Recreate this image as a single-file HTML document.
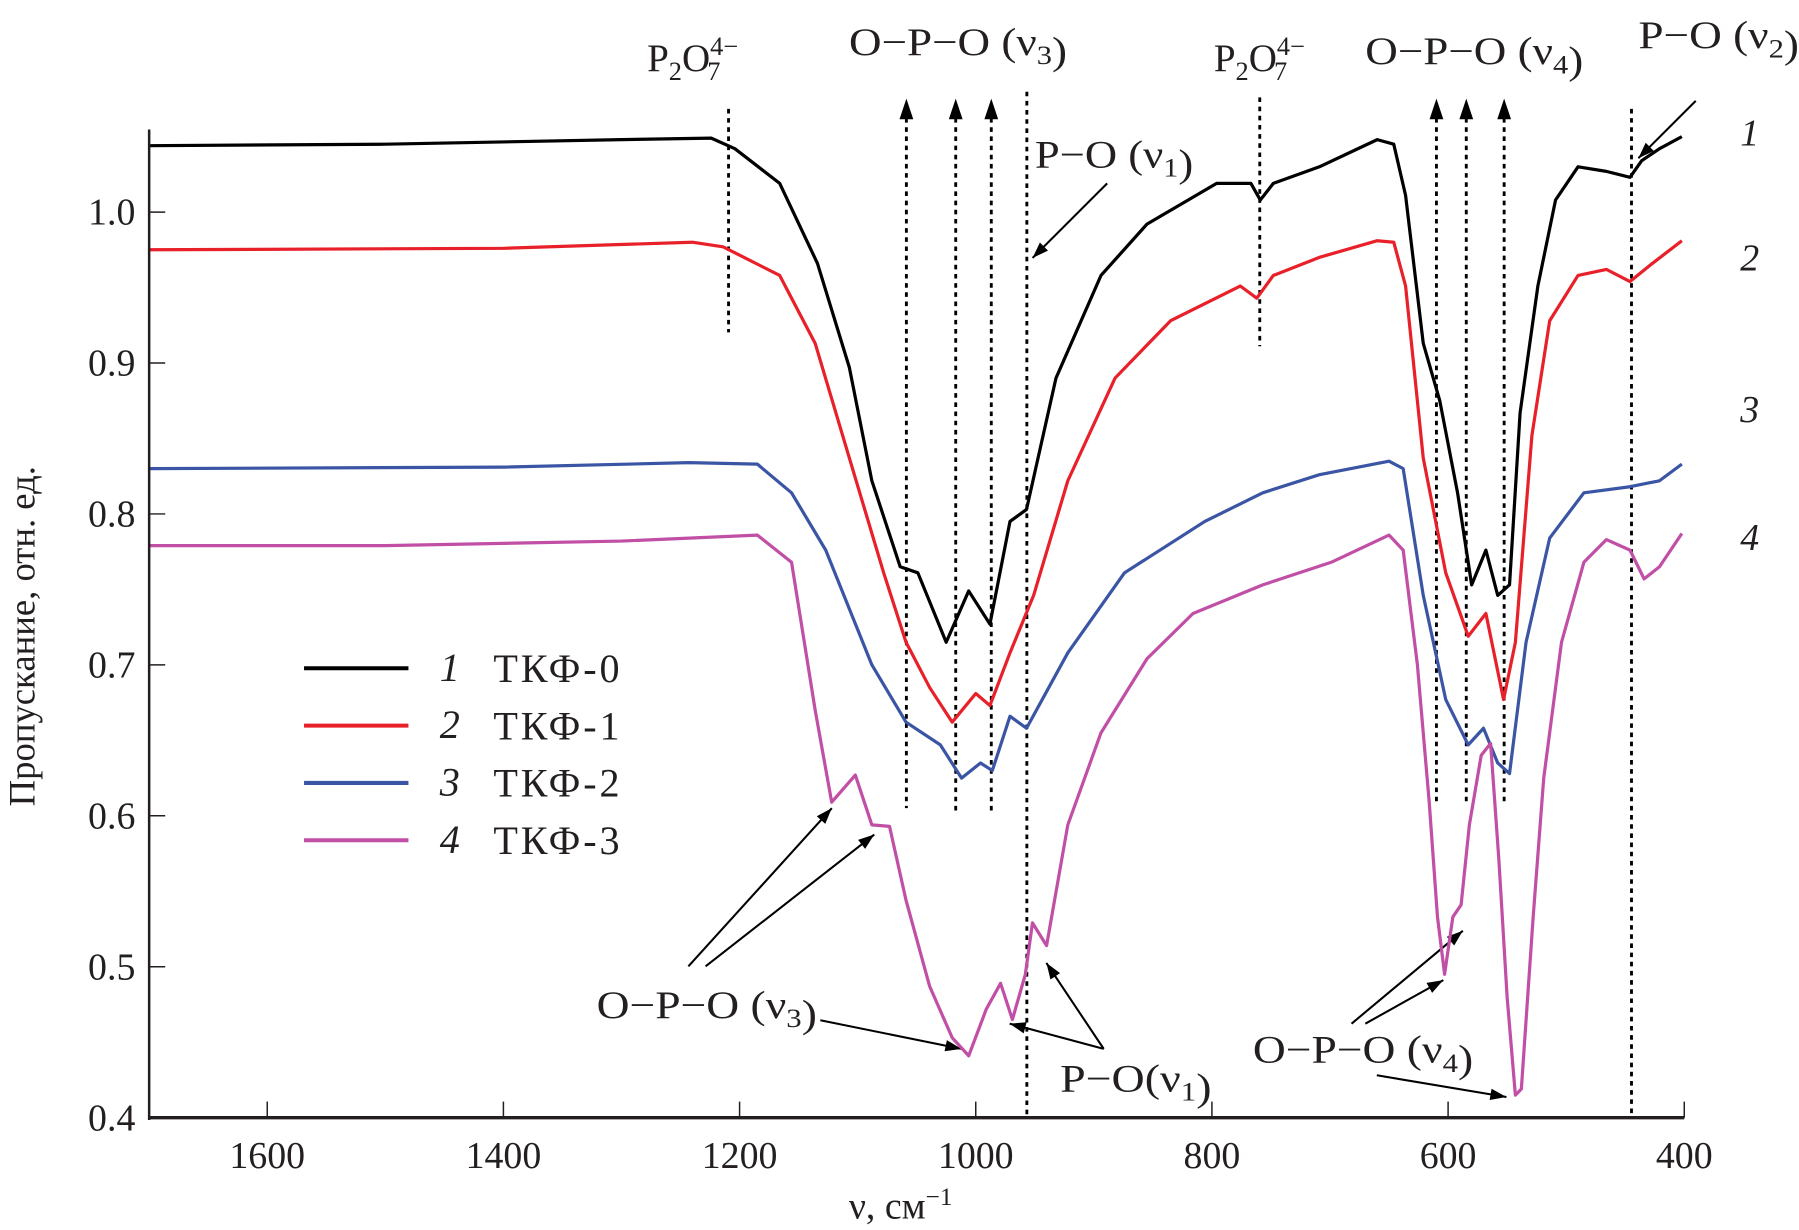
<!DOCTYPE html>
<html><head><meta charset="utf-8">
<style>
html,body{margin:0;padding:0;background:#fff;}
svg{display:block;}
text{font-family:"Liberation Serif","DejaVu Serif",serif;fill:#231f20;}
</style></head>
<body>
<svg id="chart" width="1799" height="1230" viewBox="0 0 1568 1073" preserveAspectRatio="none" xmlns="http://www.w3.org/2000/svg">
<g id="annot"></g>
<g id="series"></g>
<g id="axes"></g>
</svg>
<script>
const xTicks=[1600,1400,1200,1000,800,600,400];
const yTicks=[0.4,0.5,0.6,0.7,0.8,0.9,1.0];
const yTickLabels=["0.4","0.5","0.6","0.7","0.8","0.9","1.0"];
const seriesNames=["ТКФ-0","ТКФ-1","ТКФ-2","ТКФ-3"];
const seriesColors=["#000000","#e8202a","#3b55a5","#c04fa5"];
const wn1=[1700,1500,1300,1224,1204,1166,1134,1107,1088,1064,1049,1025,1006,988,971,957,932,894,855,796,767,759,748,709,660,646,636,621,607,592,580,568,558,548,539,524,509,490,466,446,436,421,402];
const t1=[1.044,1.045,1.048,1.049,1.042,1.019,0.966,0.897,0.822,0.765,0.761,0.715,0.749,0.727,0.795,0.803,0.89,0.958,0.992,1.019,1.019,1.008,1.019,1.03,1.048,1.045,1.011,0.913,0.875,0.814,0.753,0.776,0.746,0.753,0.867,0.951,1.008,1.03,1.027,1.023,1.034,1.042,1.05];
const wn2=[1700,1400,1240,1214,1166,1136,1107,1078,1059,1039,1020,1000,988,971,951,922,882,835,776,762,748,709,660,646,636,621,602,583,568,553,543,529,514,490,466,446,427,402];
const t2=[0.975,0.976,0.98,0.977,0.958,0.913,0.837,0.761,0.715,0.685,0.662,0.681,0.673,0.708,0.746,0.822,0.89,0.928,0.951,0.943,0.958,0.970,0.981,0.98,0.951,0.837,0.761,0.719,0.734,0.677,0.715,0.852,0.928,0.958,0.962,0.954,0.966,0.981];
const wn3=[1700,1400,1243,1185,1156,1127,1088,1059,1030,1012,996,986,971,957,922,874,806,757,709,650,638,621,602,583,570,558,548,534,514,485,446,421,402];
const t3=[0.83,0.831,0.834,0.833,0.814,0.776,0.700,0.662,0.647,0.625,0.635,0.63,0.666,0.658,0.708,0.761,0.795,0.814,0.826,0.835,0.83,0.746,0.677,0.647,0.658,0.635,0.628,0.715,0.784,0.814,0.818,0.822,0.833];
const wn4=[1700,1500,1300,1185,1156,1136,1122,1102,1088,1073,1059,1039,1020,1006,991,979,969,958,952,940,922,894,855,816,757,699,650,638,626,616,609,603,596,589,582,572,564,557,550,543,538,528,519,504,485,466,446,434,421,402];
const t4=[0.779,0.779,0.782,0.786,0.768,0.670,0.609,0.627,0.594,0.593,0.544,0.487,0.453,0.441,0.472,0.489,0.465,0.495,0.529,0.514,0.594,0.655,0.704,0.734,0.753,0.768,0.786,0.776,0.700,0.609,0.533,0.495,0.533,0.541,0.594,0.640,0.648,0.571,0.480,0.415,0.419,0.533,0.625,0.715,0.768,0.783,0.776,0.757,0.765,0.787];
const allWn=[wn1,wn2,wn3,wn4], allT=[t1,t2,t3,t4];

const NS="http://www.w3.org/2000/svg";
const X0=130,X1=1468,Y04=975,Y10=185;
function xs(v){return X0+(1700-v)*(X1-X0)/1300;}
function ys(t){return Y04-(t-0.4)*(Y04-Y10)/0.6;}
function mk(tag,attrs,parent,txt){const e=document.createElementNS(NS,tag);for(const k in attrs)e.setAttribute(k,attrs[k]);if(txt!==undefined)e.textContent=txt;parent.appendChild(e);return e;}
const axes=document.getElementById('axes'),ser=document.getElementById('series'),an=document.getElementById('annot');

let a=mk('line',{x1:X0,y1:113,x2:X0,y2:Y04+2,stroke:'#231f20','stroke-width':2.2},axes);

a=mk('line',{x1:X0-1,y1:Y04,x2:X1,y2:Y04,stroke:'#231f20','stroke-width':3},axes);

xTicks.forEach(v=>{
  let l=mk('line',{x1:xs(v),y1:Y04,x2:xs(v),y2:Y04-14,stroke:'#231f20','stroke-width':1.3},axes);
  
  let t=mk('text',{x:xs(v),y:Y04+44,'text-anchor':'middle','font-size':33},axes,String(v));
  
});
yTicks.forEach((v,i)=>{
  let l=mk('line',{x1:X0,y1:ys(v),x2:X0+14,y2:ys(v),stroke:'#231f20','stroke-width':1.3},axes);
  
  let t=mk('text',{x:118,y:ys(v)+11,'text-anchor':'end','font-size':33},axes,yTickLabels[i]);
  
});
a=mk('text',{x:785,y:1063,'text-anchor':'middle','font-size':33},axes,'ν, см');

mk('tspan',{dy:-12,'font-size':22},a,'−1');
a=mk('text',{x:0,y:0,'text-anchor':'middle','font-size':32,transform:'translate(30,555) rotate(-90)'},axes,'Пропускание, отн. ед.');


allWn.forEach((wn,s)=>{
  const pts=wn.map((v,i)=>xs(v).toFixed(1)+','+ys(allT[s][i]).toFixed(1)).join(' ');
  const p=mk('polyline',{points:pts,fill:'none',stroke:seriesColors[s],'stroke-width':2.8,'stroke-linejoin':'round'},ser);
  
  const lbl=mk('text',{x:1525,y:[127,236,368,480][s],'text-anchor':'middle','font-size':33,'font-style':'italic'},ser,String(s+1));
  
  const ly=583+50*s;
  const ll=mk('line',{x1:265,y1:ly,x2:356,y2:ly,stroke:seriesColors[s],'stroke-width':3.5},ser);
  
  const ln=mk('text',{x:392,y:ly+11,'text-anchor':'middle','font-size':35,'font-style':'italic'},ser,String(s+1));
  
  const lt=mk('text',{x:430,y:ly+12,'font-size':35,textLength:110},ser,seriesNames[s]);
  
});

const vlines=[[635,95,290],[790,95,705],[833,95,708],[864,95,708],[895,80,972],[1098,85,302],[1252,95,702],[1278,95,700],[1311,95,700],[1422,95,975]];
vlines.forEach(v=>{
  const l=mk('line',{x1:v[0],y1:v[1],x2:v[0],y2:v[2],stroke:'#000','stroke-width':2.5,'stroke-dasharray':'4 4'},an);
  
});
[790,833,864,1252,1278,1311].forEach(x=>{
  const p=mk('polygon',{points:`${x-6},104 ${x},86 ${x+6},104`,fill:'#000'},an);
  
});
function arrow(x1,y1,x2,y2){
  const l=mk('line',{x1,y1,x2,y2,stroke:'#000','stroke-width':1.8},an);
  
  const ang=Math.atan2(y2-y1,x2-x1),L=14,W=5;
  const bx=x2-L*Math.cos(ang),by=y2-L*Math.sin(ang);
  const p=mk('polygon',{points:`${x2},${y2} ${bx-W*Math.sin(ang)},${by+W*Math.cos(ang)} ${bx+W*Math.sin(ang)},${by-W*Math.cos(ang)}`,fill:'#000'},an);
  
}
arrow(965,160,900,225);
arrow(1478,88,1428,138);
arrow(600,843,725,705);
arrow(615,843,762,728);
arrow(715,890,838,915);
arrow(962,915,912,840);
arrow(962,915,880,893);
arrow(1178,893,1275,812);
arrow(1190,893,1258,855);
arrow(1200,938,1313,957);
function lab(x,y,main,sub,name,len){
  const attrs={x,y,'font-size':34};
  if(len){attrs.textLength=len;attrs.lengthAdjust='spacingAndGlyphs';}
  const t=mk('text',attrs,an);
  
  main.forEach((m,i)=>{
    mk('tspan',{},t,m);
    if(sub[i]){ mk('tspan',{dy:8,'font-size':23},t,sub[i]); mk('tspan',{dy:-8},t,''); }
  });
  return t;
}
function p2o7(x,y,name){
  const t=mk('text',{x,y,'font-size':34},an);
  
  mk('tspan',{},t,'P');mk('tspan',{dy:8,'font-size':23},t,'2');mk('tspan',{dy:-8},t,'O');
  mk('tspan',{dy:-14,'font-size':23},t,'4−');
  mk('tspan',{dx:-27,dy:22,'font-size':23},t,'7');
}
p2o7(564,62,'p2o7-label-1');
p2o7(1058,62,'p2o7-label-2');
lab(740,48,['O−P−O (ν',')'],['3',''],'opo-v3-label-top',190);
lab(1190,56,['O−P−O (ν',')'],['4',''],'opo-v4-label-top',190);
lab(1428,42,['P−O (ν',')'],['2',''],'po-v2-label',140);
lab(902,146,['P−O (ν',')'],['1',''],'po-v1-label-top',138);
lab(520,888,['O−P−O (ν',')'],['3',''],'opo-v3-label-bottom',192);
lab(924,952,['P−O(ν',')'],['1',''],'po-v1-label-bottom',132);
lab(1092,927,['O−P−O (ν',')'],['4',''],'opo-v4-label-bottom',192);
</script>
</body></html>
